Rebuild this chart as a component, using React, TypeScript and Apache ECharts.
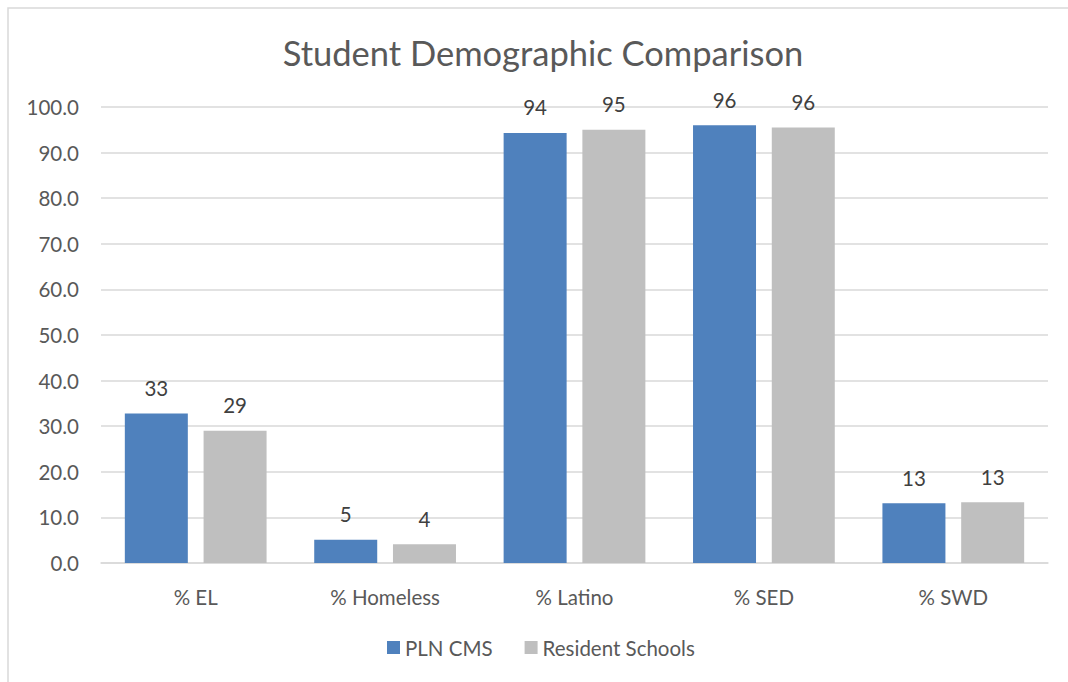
import React, { useEffect, useRef } from "react";
import * as echarts from "echarts";

const categories = ["% EL", "% Homeless", "% Latino", "% SED", "% SWD"];
const plnCms = [32.8, 5.1, 94.3, 96.0, 13.1];
const residentSchools = [29.0, 4.1, 95.0, 95.5, 13.3];
const seriesNames = ["PLN CMS", "Resident Schools"];

const FONT = "Lato, 'Open Sans', sans-serif";
const FS = 20.5;

export default function App() {
  const ref = useRef<HTMLDivElement>(null);
  useEffect(() => {
    if (!ref.current) return;
    const chart = echarts.init(ref.current, undefined, { renderer: "svg" });
    const label = {
      show: true,
      position: "top" as const,
      distance: 15,
      color: "#404040",
      fontSize: FS,
      fontFamily: FONT,
      formatter: (p: any) => Math.round(p.value).toString(),
    };
    chart.setOption({
      animation: false,
      backgroundColor: "#ffffff",
      textStyle: { fontFamily: FONT },
      graphic: [
        {
          type: "rect",
          shape: { x: 8, y: 8, width: 1200, height: 800 },
          style: { fill: "none", stroke: "#D9D9D9", lineWidth: 1.5 },
          silent: true,
        },
      ],
      title: {
        text: "Student Demographic Comparison",
        left: 538,
        textAlign: "center",
        top: 30,
        textStyle: { fontSize: 34.5, fontWeight: "normal", color: "#595959", fontFamily: FONT },
      },
      legend: {
        data: seriesNames,
        top: 632,
        left: 382,
        itemWidth: 13,
        itemHeight: 13,
        itemGap: 32,
        icon: "rect",
        textStyle: { fontSize: FS, color: "#595959", fontFamily: FONT },
      },
      grid: { left: 101, right: 20, top: 107, bottom: 119, containLabel: false },
      xAxis: {
        type: "category",
        data: categories,
        axisLine: { lineStyle: { color: "#D9D9D9", width: 1.5 } },
        axisTick: { show: false },
        axisLabel: { fontSize: FS, color: "#595959", margin: 23, fontFamily: FONT },
      },
      yAxis: {
        type: "value",
        min: 0,
        max: 100,
        interval: 10,
        axisLine: { show: false },
        axisTick: { show: false },
        splitLine: { lineStyle: { color: "#D9D9D9", width: 1.5 } },
        axisLabel: {
          fontSize: FS,
          color: "#595959",
          margin: 22,
          fontFamily: FONT,
          formatter: (v: number) => v.toFixed(1),
        },
      },
      series: [
        {
          name: seriesNames[0],
          type: "bar",
          data: plnCms,
          barWidth: 63,
          barGap: "25%",
          itemStyle: { color: "#4F81BD" },
          label,
        },
        {
          name: seriesNames[1],
          type: "bar",
          data: residentSchools,
          barWidth: 63,
          barGap: "25%",
          itemStyle: { color: "#BFBFBF" },
          label,
        },
      ],
    });
    return () => chart.dispose();
  }, []);
  return (
    <div
      ref={ref}
      style={{ position: "fixed", left: 0, top: 0, width: 1068, height: 682 }}
    />
  );
}
